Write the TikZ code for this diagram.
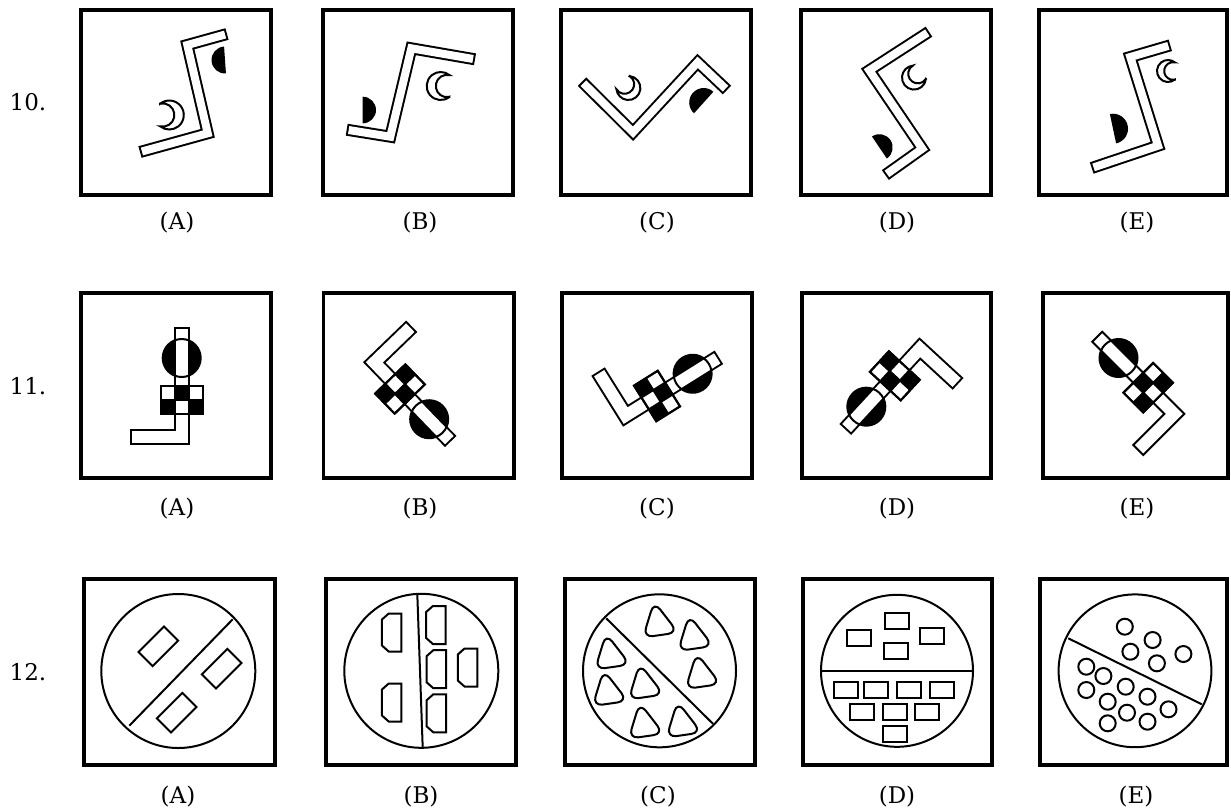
\documentclass[tikz,border=0pt]{standalone}
\usepackage{fontspec}
\setmainfont{DejaVu Serif}
\usetikzlibrary{calc}
\newcommand\frm[4]{\draw[frame] (#1+1.8,#2+1.8) rectangle (#3-1.8,#4-1.8);}
\newcommand\band[1]{\draw[bandout] #1; \draw[bandin] #1;}
\newcommand\cres[4]{\draw[thin, fill=white] ($(#1,#2)+(#4+51.3:#3)$) arc[start angle=#4+51.3, end angle=#4+308.7, radius=#3] arc[start angle=#4+282.6, end angle=#4+77.4, radius=0.8*#3] -- cycle;}
\newcommand\hdisk[4]{\fill ($(#1,#2)+(#4+90:#3)$) arc[start angle=#4+90, end angle=#4-90, radius=#3] -- cycle;}
\newcommand\gadget[3]{%
\begin{scope}[shift={(#1,#2)}, rotate=-#3]
 \fill (0,-42) circle[radius=19];
 \draw[gout] (0,-73) -- (0,37) -- (-52,37);
 \draw[gin] (0,-73) -- (0,37) -- (-52,37);
 \draw[thin] (0,-42) circle[radius=19];
 \draw[thin, fill=white] (-21,-14) rectangle (21,14);
 \fill (-7,-14) rectangle (7,0);
 \fill (-21,0) rectangle (-7,14);
 \fill (7,0) rectangle (21,14);
 \draw[thin] (-21,-14) rectangle (21,14) (-7,-14) -- (-7,14) (7,-14) -- (7,14) (-21,0) -- (21,0);
\end{scope}}
\newcommand\bul[2]{\draw[thin] (#1-3,#2-19) -- (#1+9.75,#2-19) -- (#1+9.75,#2+19) -- (#1-3,#2+19) -- (#1-9.75,#2+13) -- (#1-9.75,#2-13) -- cycle;}
\newcommand\rtri[2]{\draw[thin, rounded corners=5pt] (#1-6,#2-19) -- (#1+18,#2+12) -- (#1-17,#2+17) -- cycle;}
\newcommand\rbox[2]{\draw[thin] (#1-12,#2-7.8) rectangle (#1+12,#2+7.8);}
\newcommand\smallring[2]{\draw[thin] (#1,#2) circle[radius=8];}
\begin{document}
\begin{tikzpicture}[x=0.5pt,y=-0.5pt,
  frame/.style={line width=1.75pt},
  thin/.style={line width=1pt},
  bandout/.style={line width=6pt, line join=miter, line cap=butt},
  bandin/.style={white, line width=4pt, line join=miter, line cap=butt, shorten <=1pt, shorten >=1pt},
  gout/.style={line width=8pt, line join=miter, line cap=butt},
  gin/.style={white, line width=6pt, line join=miter, line cap=butt, shorten <=1pt, shorten >=1pt},
  lbl/.style={font=\fontsize{11.5}{14}\selectfont, inner sep=0pt},
]
\useasboundingbox (0,0) rectangle (1231,811);

% row labels
\node[lbl] (n10) at (28,102) {10.};
\node[lbl] (n11) at (28,386) {11.};
\node[lbl] (n12) at (28,672) {12.};

% ---------- row 1 ----------
\frm{79}{8}{273}{197}
\frm{321}{8}{515}{197}
\frm{559}{8}{753}{197}
\frm{799}{8}{993}{197}
\frm{1037}{8}{1229}{197}
\foreach \x/\t in {177/A,420/B,657/C,897/D,1137/E} {\node[lbl] (r1\t) at (\x,223) {(\t)};}

% A
\band{(227,34) -- (187.3,45) -- (207.7,133.3) -- (140,152)}
\cres{169.3}{115}{14.5}{180}
\hdisk{225}{60}{13.5}{176}
% B
\band{(475,59.3) -- (411.3,48.3) -- (390.3,136.7) -- (346.7,129.7)}
\cres{440.7}{86}{14}{0}
\hdisk{362.7}{110}{13.3}{0}
% C
\band{(582,81.7) -- (633,132.3) -- (697.7,62.3) -- (727,90)}
\cres{628.4}{88}{12}{225}
\hdisk{703.7}{102.5}{14.5}{222}
% D
\band{(929,31.7) -- (869.3,70.3) -- (922.3,148.7) -- (885.3,175)}
\cres{914}{77.6}{12}{315}
\hdisk{879.4}{147.5}{13.3}{326}
% E
\band{(1170.3,45.3) -- (1130.3,57) -- (1158,145.7) -- (1091.7,168)}
\cres{1168}{71}{11}{0}
\hdisk{1113}{128.7}{15}{348}

% ---------- row 2 ----------
\frm{79}{291}{273}{480}
\frm{321.7}{291}{515.7}{480}
\frm{560}{291}{754}{480}
\frm{800}{291}{992.7}{480}
\frm{1041}{291}{1230}{480}
\foreach \x/\t in {177/A,420/B,657/C,897/D,1137/E} {\node[lbl] (r2\t) at (\x,509) {(\t)};}
\gadget{181.7}{400}{0}
\gadget{400}{389}{136}
\gadget{657}{396}{58}
\gadget{894.8}{375.8}{222.7}
\gadget{1148.2}{387.7}{315}

% ---------- row 3 ----------
\frm{82.3}{577.3}{276.7}{766.7}
\frm{324.3}{577.3}{517.7}{766.7}
\frm{563.4}{577.3}{756.8}{766.7}
\frm{801}{577.3}{994}{766.7}
\frm{1038}{577.3}{1229}{766.7}
\foreach \x/\t in {178/A,421/B,658/C,897/D,1136/E} {\node[lbl] (r3\t) at (\x,797) {(\t)};}

% A
\draw[thin] (178.3,671) circle[radius=77];
\draw[thin] (129.3,725.7) -- (232.7,619.3);
\foreach \cx/\cy in {158.3/646.3, 221.7/668.7, 176.7/712.7}
  {\draw[thin, shift={(\cx,\cy)}, rotate=45] (-18,-10) rectangle (18,10);}
% B
\draw[thin] (421.3,670.8) circle[radius=77];
\draw[thin] (417.3,594) -- (422.7,747.7);
\bul{391.7}{632.5}
\bul{391.7}{702.5}
\bul{435.9}{625}
\bul{436.3}{669.2}
\bul{436.3}{713.3}
\bul{467.5}{667.5}
% C
\draw[thin] (659.5,670.8) circle[radius=76.5];
\draw[thin] (606.2,618.3) -- (713.2,724);
\rtri{660}{620.5}
\rtri{695}{634}
\rtri{702.5}{672}
\rtri{612}{652.5}
\rtri{609.6}{689}
\rtri{645.6}{682.5}
\rtri{645.6}{721.7}
\rtri{683.4}{720.5}
% D
\draw[thin] (897,670.8) circle[radius=76];
\draw[thin] (821,670.8) -- (973,670.8);
\rbox{896.7}{620.8}
\rbox{859}{638}
\rbox{932.3}{636.2}
\rbox{895.5}{650.8}
\rbox{846}{690}
\rbox{876.2}{690}
\rbox{909.4}{690}
\rbox{942.3}{690}
\rbox{862.3}{711.7}
\rbox{895.3}{711.7}
\rbox{927.3}{711.7}
\rbox{895.3}{733.8}
% E
\draw[thin] (1135,670.8) circle[radius=76.4];
\draw[thin] (1068.3,638.3) -- (1201.8,704.3);
\foreach \cx/\cy in {1124.8/626.7, 1152.6/640, 1130.4/651.7, 1156.9/663.3, 1183.4/654,
  1086.3/666.7, 1103.4/676, 1086.3/690, 1125.7/686.7, 1107.7/701.7, 1147.5/696.7,
  1127/712.7, 1168.5/709.3, 1107.7/723.3, 1147.5/721.7}
  {\smallring{\cx}{\cy}}
\end{tikzpicture}
\end{document}
